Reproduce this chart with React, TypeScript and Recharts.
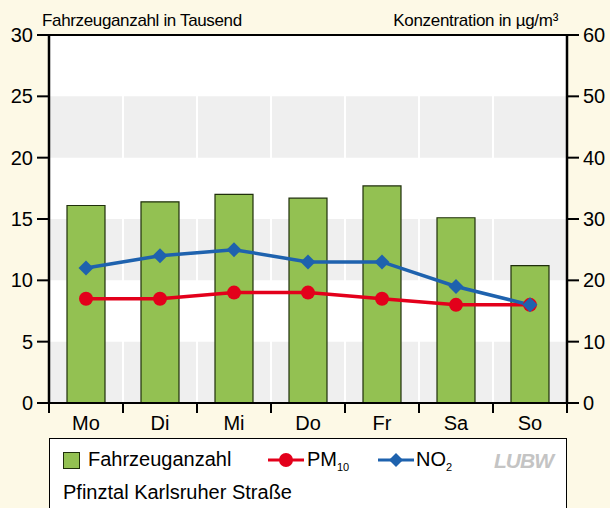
import React from 'react';
import { ComposedChart, Bar, Line, XAxis, YAxis, ReferenceArea, ReferenceLine } from 'recharts';

const days = ['Mo', 'Di', 'Mi', 'Do', 'Fr', 'Sa', 'So'];
const vehicles = [16.1, 16.4, 17.0, 16.7, 17.7, 15.1, 11.2];
const pm10 = [17, 17, 18, 18, 17, 16, 16];
const no2 = [22, 24, 25, 23, 23, 19, 16];
const leftTicks = [0, 5, 10, 15, 20, 25, 30];
const rightTicks = [0, 10, 20, 30, 40, 50, 60];
const grayBands = [[0, 5], [10, 15], [20, 25]];

const data = days.map((d, i) => ({ x: i + 0.5, day: d, vehicles: vehicles[i], pm10: pm10[i], no2: no2[i] }));
const xTicks = Array.from({ length: 15 }, (_, i) => i / 2);

const FONT = '"Liberation Sans", Arial, sans-serif';
const BG = '#fdf9e6';
const GREEN = '#93c152';
const GREEN_DARK = '#1f2f0b';
const RED = '#e3001b';
const BLUE = '#1e62ae';

const XTick = (props: any) => {
  const { x, y, payload } = props;
  const v = payload.value;
  if (Number.isInteger(v)) {
    return <line x1={x} y1={y} x2={x} y2={y + 10} stroke="#000" strokeWidth={2} />;
  }
  return (
    <text x={x} y={y + 27} textAnchor="middle" fontSize={20} fontFamily={FONT} fill="#000">
      {days[Math.floor(v)]}
    </text>
  );
};

const Diamond = (props: any) => {
  const { cx, cy } = props;
  if (cx == null || cy == null) return null;
  const r = 7.5;
  return <polygon points={`${cx},${cy - r} ${cx + r},${cy} ${cx},${cy + r} ${cx - r},${cy}`} fill={BLUE} />;
};

export default function App() {
  return (
    <div style={{ position: 'absolute', left: 0, top: 0, width: 610, height: 508, background: BG, overflow: 'hidden', fontFamily: FONT }}>
      <div style={{ position: 'absolute', left: 42, top: 11, fontSize: 17, letterSpacing: -0.35, color: '#000', whiteSpace: 'nowrap' }}>
        Fahrzeuganzahl in Tausend
      </div>
      <div style={{ position: 'absolute', right: 52, top: 11, fontSize: 17, letterSpacing: -0.3, color: '#000', whiteSpace: 'nowrap' }}>
        Konzentration in µg/m³
      </div>
      <ComposedChart width={610} height={508} data={data} margin={{ top: 35, right: 0, bottom: 75, left: 0 }}>
        <XAxis
          dataKey="x"
          type="number"
          domain={[0, 7]}
          ticks={xTicks}
          interval={0}
          tick={<XTick />}
          tickLine={false}
          tickSize={0}
          tickMargin={0}
          axisLine={{ stroke: '#000', strokeWidth: 2 }}
          height={30}
        />
        <YAxis
          yAxisId="left"
          domain={[0, 30]}
          ticks={leftTicks}
          interval={0}
          width={49}
          tickSize={12}
          tickMargin={4}
          axisLine={{ stroke: '#000', strokeWidth: 2.5 }}
          tickLine={{ stroke: '#000', strokeWidth: 2 }}
          tick={{ fontSize: 20, fill: '#000', fontFamily: FONT }}
        />
        <YAxis
          yAxisId="right"
          orientation="right"
          domain={[0, 60]}
          ticks={rightTicks}
          interval={0}
          width={43}
          tickSize={12}
          tickMargin={4}
          axisLine={{ stroke: '#000', strokeWidth: 2.5 }}
          tickLine={{ stroke: '#000', strokeWidth: 2 }}
          tick={{ fontSize: 20, fill: '#000', fontFamily: FONT }}
        />
        <ReferenceArea yAxisId="left" x1={0} x2={7} y1={0} y2={30} fill="#ffffff" fillOpacity={1} stroke="none" />
        {grayBands.map(([a, b]) => (
          <ReferenceArea key={a} yAxisId="left" x1={0} x2={7} y1={a} y2={b} fill="#efefef" fillOpacity={1} stroke="none" />
        ))}
        {[1, 2, 3, 4, 5, 6].map((v) => (
          <ReferenceLine key={v} yAxisId="left" x={v} stroke="#ffffff" strokeWidth={2} />
        ))}
        <ReferenceLine yAxisId="left" y={30} stroke="#000" strokeWidth={2} />
        <Bar yAxisId="left" dataKey="vehicles" barSize={38} fill={GREEN} stroke={GREEN_DARK} strokeWidth={1.2} isAnimationActive={false} />
        <Line yAxisId="right" dataKey="pm10" stroke={RED} strokeWidth={3.5} dot={{ r: 7, fill: RED, stroke: RED, strokeWidth: 0 }} activeDot={false} isAnimationActive={false} />
        <Line yAxisId="right" dataKey="no2" stroke={BLUE} strokeWidth={3.5} dot={<Diamond />} activeDot={false} isAnimationActive={false} />
      </ComposedChart>
      <div style={{ position: 'absolute', left: 49, top: 438, width: 516, height: 80, background: '#fff', border: '1.5px solid #000' }}>
        <div style={{ position: 'absolute', left: 13, top: 13, width: 15, height: 15, background: GREEN, border: '1px solid ' + GREEN_DARK }} />
        <div style={{ position: 'absolute', left: 38, top: 9, fontSize: 20, whiteSpace: 'nowrap' }}>Fahrzeuganzahl</div>
        <svg style={{ position: 'absolute', left: 216, top: 11 }} width={40} height={20}>
          <line x1={2} y1={10} x2={38} y2={10} stroke={RED} strokeWidth={3} />
          <circle cx={20} cy={10} r={7} fill={RED} />
        </svg>
        <div style={{ position: 'absolute', left: 257, top: 9, fontSize: 20, whiteSpace: 'nowrap' }}>
          PM<sub style={{ fontSize: 11, verticalAlign: 'baseline', position: 'relative', top: 5 }}>10</sub>
        </div>
        <svg style={{ position: 'absolute', left: 326, top: 11 }} width={40} height={20}>
          <line x1={2} y1={10} x2={38} y2={10} stroke={BLUE} strokeWidth={3} />
          <polygon points="20,3 27,10 20,17 13,10" fill={BLUE} />
        </svg>
        <div style={{ position: 'absolute', left: 366, top: 9, fontSize: 20, whiteSpace: 'nowrap' }}>
          NO<sub style={{ fontSize: 11, verticalAlign: 'baseline', position: 'relative', top: 5 }}>2</sub>
        </div>
        <div style={{ position: 'absolute', left: 444, top: 10, fontSize: 21, fontWeight: 'bold', fontStyle: 'italic', color: '#c4c4c4', letterSpacing: -1, whiteSpace: 'nowrap' }}>
          LUBW
        </div>
        <div style={{ position: 'absolute', left: 13, top: 42, fontSize: 20, whiteSpace: 'nowrap' }}>Pfinztal Karlsruher Straße</div>
      </div>
    </div>
  );
}
